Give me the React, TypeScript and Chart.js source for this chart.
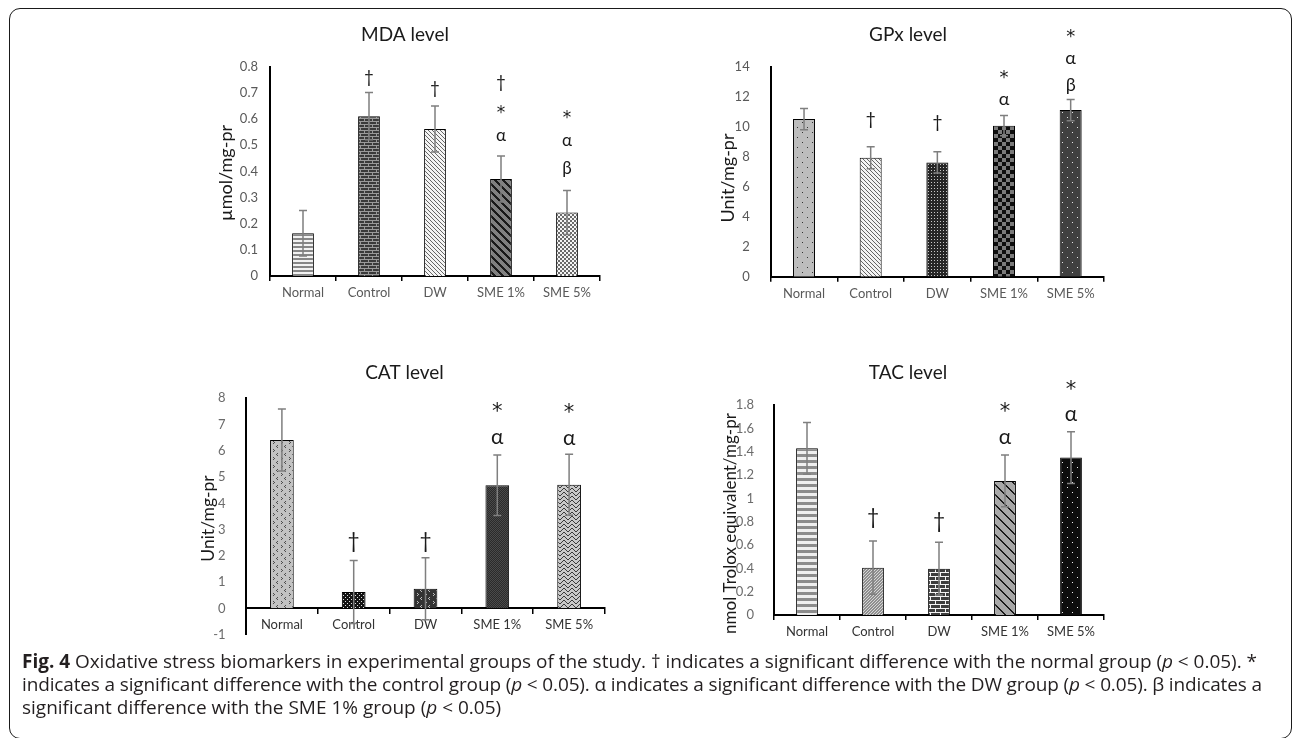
import React, { useEffect, useRef } from "react";
import { Chart, registerables } from "chart.js";
Chart.register(...registerables);

// ---------------- DATA ----------------
const categories = ["Normal", "Control", "DW", "SME 1%", "SME 5%"];

const mdaMeans = [0.163, 0.611, 0.562, 0.371, 0.243];
const mdaErrors = [0.087, 0.09, 0.088, 0.088, 0.084];
const mdaMarks = [[], ["†"], ["†"], ["†", "*", "α"], ["*", "α", "β"]];
const mdaMarkBase = [null, 0.755, 0.713, 0.532, 0.409];
const mdaAxis = [0, 0.8, 0.1];

const gpxMeans = [10.51, 7.93, 7.62, 10.07, 11.11];
const gpxErrors = [0.71, 0.73, 0.71, 0.67, 0.71];
const gpxMarks = [[], ["†"], ["†"], ["*", "α"], ["*", "α", "β"]];
const gpxMarkBase = [null, 10.44, 10.22, 11.78, 12.73];
const gpxAxis = [0, 14, 2];

const catMeans = [6.41, 0.62, 0.75, 4.69, 4.71];
const catErrors = [1.18, 1.2, 1.18, 1.15, 1.16];
const catMarks = [[], ["†"], ["†"], ["*", "α"], ["*", "α"]];
const catMarkBase = [null, 2.54, 2.54, 6.48, 6.44];
const catAxis = [-1, 8, 1];

const tacMeans = [1.429, 0.406, 0.397, 1.149, 1.349];
const tacErrors = [0.222, 0.228, 0.226, 0.222, 0.222];
const tacMarks = [[], ["†"], ["†"], ["*", "α"], ["*", "α"]];
const tacMarkBase = [null, 0.829, 0.8, 1.514, 1.706];
const tacAxis = [0, 1.8, 0.2];

// ---------------- STYLES ----------------
const FONT = "Lato, 'Open Sans', 'DejaVu Sans', sans-serif";
const STAR_FONT = "'DejaVu Sans', sans-serif";

type Px = (x: number, y: number) => string | null;

function tile(w: number, h: number, bg: string, px: Px): CanvasPattern {
  const c = document.createElement("canvas");
  c.width = w;
  c.height = h;
  const g = c.getContext("2d")!;
  g.fillStyle = bg;
  g.fillRect(0, 0, w, h);
  for (let y = 0; y < h; y++) {
    for (let x = 0; x < w; x++) {
      const col = px(x, y);
      if (col) {
        g.fillStyle = col;
        g.fillRect(x, y, 1, 1);
      }
    }
  }
  const tmp = document.createElement("canvas").getContext("2d")!;
  return tmp.createPattern(c, "repeat")!;
}

function pattern(kind: string): CanvasPattern {
  switch (kind) {
    case "hstripe":
      return tile(4, 4, "#f2f2f2", (x, y) => (y < 2 ? "#868686" : null));
    case "hstripeWide":
      return tile(6, 6, "#efefef", (x, y) => (y < 3 ? "#8c8c8c" : null));
    case "brickDark":
      return tile(8, 6, "#3a3a3a", (x, y) =>
        y === 0 || y === 3 ? "#9a9a9a" : (y < 3 && x === 0) || (y > 3 && x === 4) ? "#9a9a9a" : null);
    case "brickWhite":
      return tile(10, 8, "#3d3d3d", (x, y) =>
        y === 0 || y === 4 ? "#f4f4f4" : (y < 4 && x === 0) || (y > 4 && x === 5) ? "#f4f4f4" : null);
    case "diagLight":
      return tile(4, 4, "#f4f4f4", (x, y) => ((x - y + 8) % 4 === 0 ? "#666" : null));
    case "diagWideDark":
      return tile(8, 8, "#808080", (x, y) => ((x - y + 16) % 8 < 3 ? "#1a1a1a" : null));
    case "diagWideGrey":
      return tile(10, 10, "#a8a8a8", (x, y) => ((x - y + 20) % 10 < 2 ? "#1a1a1a" : null));
    case "checkSmall":
      return tile(4, 4, "#f4f4f4", (x, y) => ((Math.floor(x / 2) + Math.floor(y / 2)) % 2 === 0 ? "#6a6a6a" : null));
    case "checkBig":
      return tile(8, 8, "#7a7a7a", (x, y) => ((Math.floor(x / 4) + Math.floor(y / 4)) % 2 === 0 ? "#0d0d0d" : null));
    case "dotsLight":
      return tile(10, 10, "#bdbdbd", (x, y) => ((x === 2 && y === 2) || (x === 7 && y === 7) ? "#333" : null));
    case "dotsDarkFine":
      return tile(3, 3, "#262626", (x, y) => (x === 1 && y === 1 ? "#c8c8c8" : null));
    case "dotsDarkSparse":
      return tile(10, 10, "#404040", (x, y) => ((x === 2 && y === 2) || (x === 7 && y === 7) ? "#e6e6e6" : null));
    case "dotsBlack":
      return tile(10, 10, "#0d0d0d", (x, y) => ((x === 2 && y === 2) || (x === 7 && y === 7) ? "#f2f2f2" : null));
    case "chevronLight":
      return tile(8, 8, "#c2c2c2", (x, y) =>
        (x === 1 && (y === 1 || y === 3)) || (x === 0 && y === 2) || (x === 5 && (y === 5 || y === 7)) || (x === 6 && y === 6)
          ? "#4d4d4d" : null);
    case "blackDots":
      return tile(4, 4, "#141414", (x, y) => ((x === 1 && y === 1) || (x === 3 && y === 3) ? "#e0e0e0" : null));
    case "chevronDark":
      return tile(8, 8, "#333333", (x, y) =>
        (x === 1 && (y === 1 || y === 3)) || (x === 0 && y === 2) || (x === 5 && (y === 5 || y === 7)) || (x === 6 && y === 6)
          ? "#bdbdbd" : null);
    case "darkFine":
      return tile(2, 2, "#2a2a2a", (x, y) => ((x + y) % 2 === 0 ? "#4a4a4a" : null));
    case "wave":
      return tile(8, 4, "#c9c9c9", (x, y) => {
        const z = [0, 1, 2, 3, 3, 2, 1, 0][x];
        return y === z ? "#3a3a3a" : null;
      });
    case "greyCheck":
      return tile(3, 3, "#8f8f8f", (x, y) => ((x + y) % 3 === 0 ? "#d6d6d6" : null));
    default:
      return tile(1, 1, "#888", () => null);
  }
}

type Spec = {
  title: string;
  yTitle: string;
  means: number[];
  errors: number[];
  marks: string[][];
  markBase: (number | null)[];
  axis: number[];
  patterns: string[];
  canvas: { left: number; top: number; width: number; height: number };
  area: { left: number; top: number; right: number; bottom: number };
  tc: { x: number; y: number };
  yTitlePos: { x: number; y: number };
  yTitleSize: number;
  yTickPad: number;
  zeroAxis: boolean;
  xLabelColor: string;
  yLabelColor: string;
  markSize: number;
  markLine: number;
};

const specs: Spec[] = [
  {
    title: "MDA level", yTitle: "µmol/mg-pr", means: mdaMeans, errors: mdaErrors, marks: mdaMarks, markBase: mdaMarkBase, axis: mdaAxis,
    patterns: ["hstripe", "brickDark", "diagLight", "diagWideDark", "checkSmall"],
    canvas: { left: 180, top: 10, width: 440, height: 310 },
    area: { left: 270, top: 66.7, right: 600, bottom: 276 },
    tc: { x: 405, y: 35 }, yTitlePos: { x: 226.5, y: 173 }, yTitleSize: 18, yTickPad: 4, zeroAxis: false,
    xLabelColor: "#595959", yLabelColor: "#595959", markSize: 17, markLine: 27,
  },
  {
    title: "GPx level", yTitle: "Unit/mg-pr", means: gpxMeans, errors: gpxErrors, marks: gpxMarks, markBase: gpxMarkBase, axis: gpxAxis,
    patterns: ["dotsLight", "diagLight", "dotsDarkFine", "checkBig", "dotsDarkSparse"],
    canvas: { left: 690, top: 10, width: 430, height: 310 },
    area: { left: 770.7, top: 66.7, right: 1104, bottom: 276.7 },
    tc: { x: 908, y: 35 }, yTitlePos: { x: 728, y: 178 }, yTitleSize: 18, yTickPad: 13, zeroAxis: false,
    xLabelColor: "#595959", yLabelColor: "#595959", markSize: 18, markLine: 26,
  },
  {
    title: "CAT level", yTitle: "Unit/mg-pr", means: catMeans, errors: catErrors, marks: catMarks, markBase: catMarkBase, axis: catAxis,
    patterns: ["chevronLight", "blackDots", "chevronDark", "darkFine", "wave"],
    canvas: { left: 180, top: 340, width: 440, height: 320 },
    area: { left: 246, top: 398.3, right: 605, bottom: 634.6 },
    tc: { x: 404.5, y: 372.7 }, yTitlePos: { x: 208, y: 518.5 }, yTitleSize: 17.5, yTickPad: 12.5, zeroAxis: true,
    xLabelColor: "#333333", yLabelColor: "#6b6b6b", markSize: 21, markLine: 31,
  },
  {
    title: "TAC level", yTitle: "nmol Trolox equivalent/mg-pr", means: tacMeans, errors: tacErrors, marks: tacMarks, markBase: tacMarkBase, axis: tacAxis,
    patterns: ["hstripeWide", "greyCheck", "brickWhite", "diagWideGrey", "dotsBlack"],
    canvas: { left: 690, top: 340, width: 430, height: 315 },
    area: { left: 774, top: 405, right: 1104, bottom: 615 },
    tc: { x: 908, y: 372.7 }, yTitlePos: { x: 731, y: 523.5 }, yTitleSize: 17, yTickPad: 12, zeroAxis: false,
    xLabelColor: "#333333", yLabelColor: "#6b6b6b", markSize: 21, markLine: 31,
  },
];

function overlayPlugin(spec: Spec) {
  return {
    id: "overlay",
    afterDraw(chart: any) {
      const ctx: CanvasRenderingContext2D = chart.ctx;
      const meta = chart.getDatasetMeta(0);
      const ys = chart.scales.y;
      ctx.save();
      // error bars
      ctx.strokeStyle = "#7f7f7f";
      ctx.lineWidth = 1.5;
      meta.data.forEach((bar: any, i: number) => {
        const m = spec.means[i];
        const e = spec.errors[i];
        const x = bar.x;
        const yt = ys.getPixelForValue(m + e);
        const yb = ys.getPixelForValue(m - e);
        ctx.beginPath();
        ctx.moveTo(x, yt);
        ctx.lineTo(x, yb);
        ctx.moveTo(x - 4, yt);
        ctx.lineTo(x + 4, yt);
        ctx.moveTo(x - 4, yb);
        ctx.lineTo(x + 4, yb);
        ctx.stroke();
      });
      // significance marks
      ctx.fillStyle = "#1a1a1a";
      ctx.textAlign = "center";
      ctx.textBaseline = "alphabetic";
      meta.data.forEach((bar: any, i: number) => {
        const marks = spec.marks[i];
        const base = spec.markBase[i];
        if (!marks.length || base == null) return;
        const yb = ys.getPixelForValue(base);
        marks.forEach((s, k) => {
          const row = marks.length - 1 - k;
          const cy = yb - row * spec.markLine;
          ctx.font = s === "*" ? `${spec.markSize}px ${STAR_FONT}` : `${spec.markSize}px ${FONT}`;
          const mt = ctx.measureText(s);
          const asc = mt.actualBoundingBoxAscent || spec.markSize * 0.7;
          const desc = mt.actualBoundingBoxDescent || 0;
          ctx.fillText(s, bar.x, cy + (asc - desc) / 2);
        });
      });
      // y axis title (rotated)
      const c = spec.canvas;
      ctx.translate(spec.yTitlePos.x - c.left, spec.yTitlePos.y - c.top);
      ctx.rotate(-Math.PI / 2);
      ctx.font = `${spec.yTitleSize}px ${FONT}`;
      ctx.textAlign = "center";
      ctx.textBaseline = "middle";
      ctx.fillStyle = "#1a1a1a";
      ctx.fillText(spec.yTitle, 0, 0);
      ctx.restore();
    },
  };
}

function Panel({ spec }: { spec: Spec }) {
  const ref = useRef<HTMLCanvasElement>(null);
  useEffect(() => {
    const c = spec.canvas;
    const a = spec.area;
    const canvasRight = c.left + c.width;
    const canvasBottom = c.top + c.height;
    const yBoxLeft = 2 * spec.tc.x - a.right;
    const padLeft = yBoxLeft - c.left;
    const padRight = canvasRight - a.right;
    const titleSize = 19;
    const tlh = titleSize * 1.2;
    const titlePadTop = spec.tc.y - c.top - tlh / 2;
    const titlePadBottom = a.top - c.top - titlePadTop - tlh;
    const yWidth = a.left - yBoxLeft;
    const xHeight = canvasBottom - a.bottom;

    const chart = new Chart(ref.current!, {
      type: "bar",
      data: {
        labels: categories,
        datasets: [
          {
            data: spec.means,
            backgroundColor: spec.patterns.map(pattern) as any,
            borderColor: "#000",
            borderWidth: 1,
            barPercentage: 0.33,
            categoryPercentage: 1,
          },
        ],
      },
      options: {
        responsive: false,
        animation: false,
        events: [],
        layout: {
          padding: {
            left: padLeft,
            right: padRight,
            top: 0,
            bottom: spec.zeroAxis ? xHeight : 0,
          },
        },
        plugins: {
          legend: { display: false },
          tooltip: { enabled: false },
          title: {
            display: true,
            text: spec.title,
            color: "#1a1a1a",
            font: { family: FONT, size: titleSize, weight: "normal", lineHeight: 1.2 },
            padding: { top: titlePadTop, bottom: titlePadBottom },
          },
        },
        scales: {
          x: {
            type: "category",
            position: spec.zeroAxis ? ({ y: 0 } as any) : "bottom",
            z: 1,
            offset: true,
            grid: {
              display: true,
              offset: true,
              drawOnChartArea: false,
              drawTicks: true,
              tickLength: 5,
              color: "#000",
              lineWidth: 1.5,
            },
            border: { display: true, color: "#000", width: 2 },
            ticks: {
              color: spec.xLabelColor,
              font: { family: FONT, size: 13 },
              padding: 4,
              maxRotation: 0,
              autoSkip: false,
            },
            afterFit: spec.zeroAxis
              ? undefined
              : (s: any) => {
                  s.height = xHeight;
                },
          },
          y: {
            min: spec.axis[0],
            max: spec.axis[1],
            grid: { display: false },
            border: { display: true, color: "#000", width: 2 },
            ticks: {
              stepSize: spec.axis[2],
              color: spec.yLabelColor,
              font: { family: FONT, size: 13 },
              padding: spec.yTickPad,
              callback: (v: any) => String(parseFloat(Number(v).toFixed(2))),
            },
            title: { display: false },
            afterFit: (s: any) => {
              s.width = yWidth;
            },
          },
        },
      } as any,
      plugins: [overlayPlugin(spec)],
    });
    return () => chart.destroy();
  }, [spec]);
  return (
    <canvas
      ref={ref}
      width={spec.canvas.width}
      height={spec.canvas.height}
      style={{
        position: "absolute",
        left: spec.canvas.left,
        top: spec.canvas.top,
        width: spec.canvas.width,
        height: spec.canvas.height,
      }}
    />
  );
}

const captionFont = "'Open Sans', sans-serif";

export default function App() {
  return (
    <div
      style={{
        position: "absolute",
        left: 0,
        top: 0,
        width: 1292,
        height: 738,
        overflow: "hidden",
        background: "#fff",
      }}
    >
      <div
        style={{
          position: "absolute",
          left: 9,
          top: 8,
          width: 1283,
          height: 731,
          border: "1.5px solid #1a1a1a",
          borderRadius: 11,
          boxSizing: "border-box",
        }}
      />
      {specs.map((s) => (
        <Panel key={s.title} spec={s} />
      ))}
      <svg
        width={1292}
        height={98}
        style={{ position: "absolute", left: 0, top: 640 }}
        fontFamily={captionFont}
        fontSize={19}
        fill="#231f20"
      >
        <text x={22} y={28} textLength={1235} lengthAdjust="spacing">
          <tspan fontWeight="bold">Fig. 4</tspan> Oxidative stress biomarkers in experimental groups of the study. † indicates a significant difference with the normal group (<tspan fontStyle="italic">p</tspan> &lt; 0.05). *
        </text>
        <text x={22} y={51} textLength={1240} lengthAdjust="spacing">
          indicates a significant difference with the control group (<tspan fontStyle="italic">p</tspan> &lt; 0.05). α indicates a significant difference with the DW group (<tspan fontStyle="italic">p</tspan> &lt; 0.05). β indicates a
        </text>
        <text x={22} y={73.5}>
          significant difference with the SME 1% group (<tspan fontStyle="italic">p</tspan> &lt; 0.05)
        </text>
      </svg>
    </div>
  );
}
